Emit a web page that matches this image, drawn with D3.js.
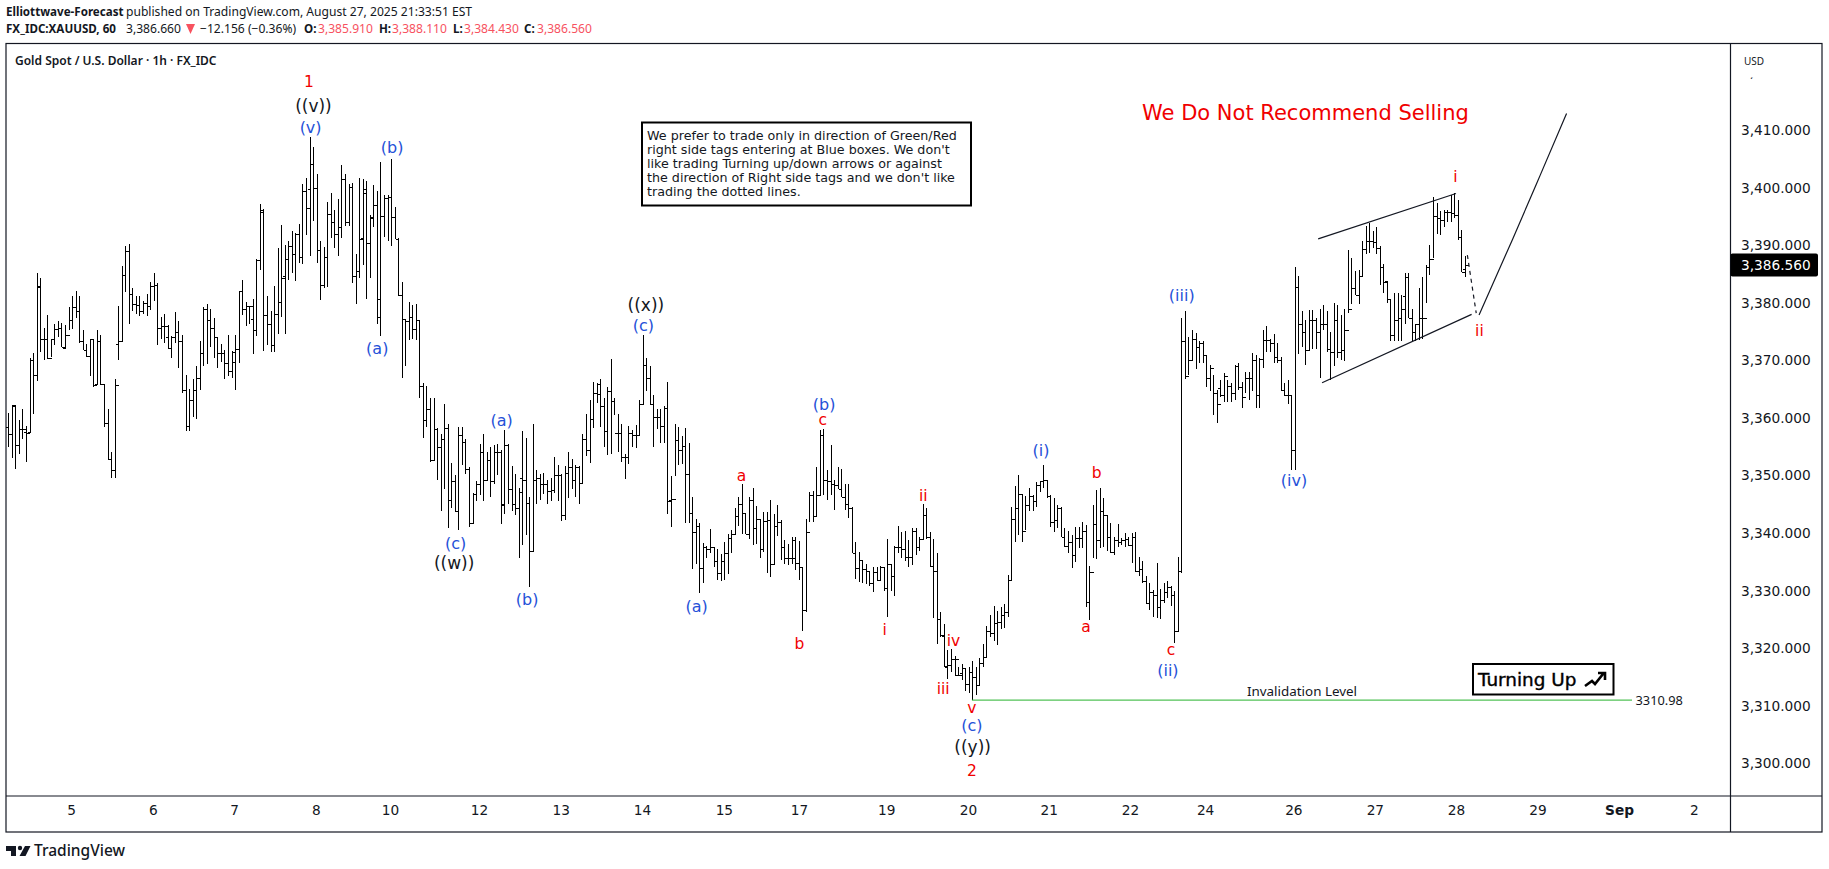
<!DOCTYPE html>
<html>
<head>
<meta charset="utf-8">
<title>XAUUSD 1h</title>
<script src="https://cdn.jsdelivr.net/npm/d3@7"></script>
<style>
    html, body { margin: 0; padding: 0; background: #fff; }
    svg { display: block; font-family: "Noto Sans", sans-serif; }
    .axis path, .axis line { display: none; }
    .axis text { font-family: "DejaVu Sans", sans-serif; font-size: 13.7px; fill: #131722; }
    .wave { font-family: "DejaVu Sans", sans-serif; text-anchor: middle; dominant-baseline: central; }
</style>
</head>
<body>
<script>
const highs = [
3360.8,3362.2,3362.2,3359.6,3361.5,3358.6,3370.4,3371.3,3385.1,3384.3,
3375.7,3377.8,3373.8,3376.4,3376.9,3376.5,3376.1,3379.2,3381.1,3382.1,
3381.1,3375.3,3372.8,3373.8,3373.8,3375.3,3374.4,3365.9,3361.6,3354.1,
3366.7,3379.4,3386.4,3389.9,3390.2,3382.5,3381.1,3381.2,3380.4,3381.5,
3383.6,3385.1,3383.4,3377.5,3378.1,3376.1,3374.2,3378.4,3376.8,3374.4,
3367.5,3365.1,3366.8,3369,3373.4,3379.2,3379.8,3379,3377.3,3374.1,
3372.8,3371.8,3374.4,3371.6,3374.4,3382.1,3384,3380.2,3379.4,3380.7,
3387.6,3397.2,3396.3,3381.1,3378.5,3383,3389.5,3393.6,3390.1,3390.8,
3392.4,3392.1,3393.7,3400.7,3401.7,3408.8,3407.1,3402.4,3390.8,3389.7,
3397.5,3399.1,3396.2,3398,3404,3402.4,3400.7,3400.9,3388.4,3401.7,
3401.5,3401.1,3395.3,3400.5,3399.4,3404.4,3398.8,3398.8,3405,3396.6,
3391.2,3383.6,3377.2,3380.1,3379.7,3379.8,3377,3366,3365.5,3363.4,
3363.5,3358.2,3357.2,3362.5,3359,3352.1,3350.1,3358.5,3358.4,3356.4,
3351.5,3346.9,3349.1,3355.4,3357.2,3354.1,3355,3355.3,3355.4,3354.4,
3357.9,3355.4,3351.6,3350.2,3347.9,3357.8,3356.6,3346.3,3358.9,3350.9,
3350.2,3350.5,3349.2,3349.6,3353.2,3351.8,3350.3,3351.6,3354,3352.8,
3351.8,3351.7,3357.2,3360.6,3363.1,3366.3,3366,3366.7,3363.4,3365.4,
3370.3,3363.4,3360.6,3359,3353.8,3358.6,3357.9,3358.7,3363.2,3374.4,
3370.5,3369,3364,3361.5,3361.6,3362,3366.3,3350,3358.9,3358.5,
3356.9,3358.2,3355.7,3346.2,3342.5,3341.7,3338.2,3337.7,3340.7,3337.5,
3337.3,3336.3,3338.5,3339.9,3340.5,3344.4,3346.3,3348.5,3343.4,3346.2,
3347.9,3344.7,3342.4,3343.7,3343.7,3345.7,3343.3,3344.9,3342.3,3338.8,
3338.1,3339.3,3339.3,3338.6,3334.1,3342.4,3347.2,3347.3,3351.5,3357.9,
3358,3351,3355.3,3349.2,3351.5,3351.2,3348.5,3348.5,3344.5,3338.5,
3336.7,3335.4,3334.6,3333.4,3334.1,3334.1,3334.3,3334.1,3338.9,3334.7,
3337.7,3341.2,3340.2,3340.3,3338.8,3340.8,3340.8,3339.4,3345,3344.4,
3340.2,3339,3336.6,3326.3,3324.2,3319.7,3319.8,3318.7,3316.8,3317.3,
3316.5,3316.8,3317.7,3316.8,3318.3,3320.8,3323.8,3325.8,3327.4,3326.4,
3327.1,3327.7,3332.8,3344.5,3348.2,3350.1,3346.6,3346.5,3347.8,3346.6,
3348.8,3349.1,3351.9,3349.2,3346.6,3346.1,3344.9,3344.6,3340.8,3340.3,
3339.7,3341.1,3341.1,3342,3341.4,3334.2,3344.9,3347.4,3347.8,3346.1,
3343.1,3341.7,3339.4,3341.6,3339.1,3340,3339.3,3340,3340.1,3335.9,
3335.2,3332.5,3331.3,3330.1,3334.8,3330.3,3331.3,3331.6,3330.8,3329.9,
3335.9,3377.3,3378.5,3374.1,3375.3,3374.7,3373.3,3373.3,3370.8,3369.2,
3367.5,3364.9,3366.6,3367.8,3366.6,3366,3369.2,3369.5,3366.3,3368,
3368,3371.2,3370.9,3370.4,3375.3,3376,3373.8,3374.6,3373,3370.6,
3366,3366.6,3364,3386.3,3384.7,3378.6,3377,3378.8,3378.8,3377.3,
3378.9,3379.6,3378.5,3375,3379.9,3379.6,3377.9,3379,3389.2,3387.7,
3385.6,3385.7,3390.8,3393.4,3393.9,3392.4,3393.1,3389.8,3386.8,
3383.8,3380.6,3381.7,3381.7,3381.4,3385.1,3385.1,3378.9,3376.4,3382.5,
3384.5,3386.6,3390,3398.4,3397.3,3396,3396.1,3396.2,3398.8,3399,
3397.9,3392.7,3388.11];

const lows = [
3355,3353.1,3351.2,3353.7,3356.4,3352.4,3357.4,3360.6,3366.5,3371.5,
3370,3370.2,3370.6,3372.7,3374.1,3372.4,3372.1,3375.3,3375.4,3377.4,
3373,3371.8,3370.6,3367.3,3365.3,3365.7,3365.7,3358.5,3352.7,3349.5,
3349.5,3370,3373.3,3381.8,3376.3,3378.5,3378.1,3377.7,3378.1,3377.7,
3378.7,3380.4,3372.7,3373.8,3373,3372,3370.4,3373,3368.6,3364.4,
3357.8,3357.8,3360.2,3359.9,3364.9,3369.1,3369.4,3372.4,3370.4,3368.6,
3369.8,3366.7,3367.2,3367,3364.8,3369.6,3377.8,3376,3376.3,3371.1,
3374.3,3385.7,3371.7,3372.7,3371.4,3371.4,3374.5,3377.6,3374.5,3383.9,
3385.2,3383.8,3387,3386.8,3391.8,3388.1,3394.3,3387,3380.5,3382.6,
3382.8,3391.2,3389.6,3388.2,3391.2,3393.3,3393.3,3383.4,3379.8,3384.3,
3386.6,3380.7,3384.3,3393.2,3376.4,3374.2,3391.5,3390.7,3389.8,3391.1,
3381.2,3366.9,3369.1,3373.6,3373.7,3373.6,3363.4,3356.5,3358.4,3352.4,
3352.5,3349.2,3343.9,3347.6,3340.9,3344.4,3343.7,3340.5,3351.8,3350.2,
3341,3341.5,3345.6,3346.6,3345.6,3349.3,3346.3,3348.6,3350.1,3341.5,
3343.3,3345.1,3343.9,3343.1,3335.7,3337.9,3339.6,3330.7,3336.7,3345,
3345.7,3346.8,3345,3345.6,3347,3345.6,3342.1,3342.2,3346.1,3347.7,
3346.2,3345.1,3348.7,3353.4,3352.2,3358.2,3362.6,3358.4,3355,3353.5,
3353.8,3360.5,3354,3352.4,3349.4,3352,3354.9,3354.7,3357.1,3362.3,
3364.7,3362.3,3355,3358,3355.6,3355.7,3343.3,3341.1,3350,3351.8,
3352,3341.7,3341.7,3333.7,3334.7,3329.5,3331.4,3335.6,3336.6,3334.1,
3331.9,3331.7,3331.9,3332.9,3336.6,3339.6,3341.2,3339.9,3339.8,3339,
3337.9,3338.1,3335.7,3336.7,3333.1,3332.4,3334.4,3339.5,3335.3,3334.6,
3334.4,3334.7,3333.5,3331.8,3323,3326.3,3342,3342,3342.8,3346.4,
3346.6,3345.7,3346.6,3344,3347.7,3346.2,3344,3342.6,3336.5,3332.1,
3331.5,3331.4,3331.2,3330.8,3329.8,3331.7,3331.8,3330,3325.4,3330,
3329.1,3336.6,3335.6,3335.2,3334.1,3334.4,3336.2,3336.8,3338.9,3339,
3334.1,3325.3,3320.7,3322,3316.8,3314.6,3315.8,3315.2,3315.2,3314.4,
3312.5,3312.2,3311,3311.9,3313.6,3316.8,3318.3,3321.9,3321.2,3320.6,
3323.3,3323.5,3325.4,3331.6,3338.5,3339.7,3338.5,3340.6,3343.8,3343.8,
3344.6,3347.1,3347.8,3346.1,3341,3340.1,3340.9,3339.3,3337.6,3336.6,
3333.9,3335,3337.4,3337.4,3327.2,3324.9,3335.6,3335.5,3337.4,3337.6,
3336.8,3336.5,3336.2,3337.6,3338,3337.6,3337.8,3334.8,3333.3,3332.5,
3331.4,3327.7,3326.6,3325.4,3325.2,3325,3327.8,3328.7,3327.4,3320.9,
3322.9,3333,3366.8,3367.5,3370.1,3368.5,3369.5,3369.5,3365.4,3364.6,
3360.5,3359.2,3363.6,3362.8,3362.7,3362.7,3363.1,3364.9,3361.7,3364.3,
3363.1,3364.7,3361.7,3361.7,3368.6,3371.5,3371.4,3369.5,3369.5,3364.6,
3363.8,3362.5,3351,3351,3371.1,3372.4,3369.2,3371.8,3371.9,3371.9,
3366.9,3375.3,3371.5,3366.6,3369,3370.4,3370,3369.9,3378.3,3379.8,
3381.4,3379.8,3384.7,3388.5,3388.6,3389.5,3388.5,3383.1,3381.7,
3380,3373.4,3373.4,3373.4,3373.4,3376.4,3377.3,3373.4,3373.4,3373.5,
3373.8,3379.9,3384.8,3387.7,3392,3391.8,3393.2,3394.1,3394.1,3394.7,
3391,3385.3,3384.43];

const closes = [
3357.2,3362.2,3355.3,3358,3358,3357.3,3370,3367.5,3383,3373.7,
3373.8,3370.5,3373.8,3375.4,3375.7,3372.4,3374.4,3377,3379.2,3378.6,
3373.3,3371.8,3370.8,3373.8,3365.7,3373.4,3365.9,3359.2,3352.8,3351,
3365.7,3373.4,3384.8,3389,3381.6,3379.8,3379.6,3378.6,3380,3379.4,
3382.9,3383.1,3375.7,3376,3376,3372.1,3374,3374.9,3373.3,3364.8,
3358.6,3363.2,3364.9,3367,3371.2,3379,3377,3375.7,3374,3371.2,
3371.2,3369.5,3368.1,3371.5,3371.9,3382,3379,3379.4,3379.4,3375.2,
3387.4,3396.1,3377.9,3376.3,3372.7,3378,3380.2,3384.3,3387.6,3389.8,
3388.5,3392,3387.9,3399.4,3396.4,3404.2,3400,3389.1,3383.1,3387.9,
3395.4,3394,3392,3393.2,3401.5,3394,3400.2,3384.6,3385.5,3391.1,
3399.8,3390.4,3394.9,3397,3380.6,3395,3398.2,3398.3,3394.9,3391.1,
3381.4,3377.2,3376.9,3377.6,3375.4,3377,3365.5,3359.7,3361.5,3352.7,
3358,3354.9,3356.4,3358.2,3345.8,3349,3343.8,3357,3355.8,3351.2,
3341.8,3346.8,3348.6,3354.1,3349.3,3352.7,3349.1,3354,3354,3344.9,
3355.3,3347.6,3345.1,3344.3,3347.1,3349.3,3345.3,3336.9,3349.3,3349.5,
3348.6,3348.6,3347.3,3347.4,3350.1,3350.1,3343.1,3350.5,3351.4,3349.2,
3351.5,3348.7,3356.4,3354.4,3359.9,3364.4,3364.2,3362,3357.8,3364.6,
3362.9,3357.3,3357.4,3353.3,3353.3,3357.4,3357,3357.1,3362.4,3369.2,
3367,3362.4,3360.1,3360.1,3358.6,3361.8,3345.6,3345.9,3356.1,3354.5,
3355.1,3350.2,3343.5,3340.2,3341.3,3334,3337.5,3337.3,3337.6,3335.2,
3333,3335.1,3336.6,3339.2,3339.9,3342.9,3345,3343.4,3339.9,3345.7,
3340.8,3342.4,3337.3,3342.1,3342.2,3334.6,3341.3,3342,3337.6,3335.7,
3335.7,3338.8,3334.8,3334.1,3326.7,3340.2,3346.6,3342.9,3346.6,3357,
3349.3,3349.1,3348.6,3348.3,3347.7,3346.2,3345,3344.4,3336.6,3334,
3335.3,3333.8,3333.4,3331.4,3333.3,3331.8,3334.1,3330.5,3334.7,3332.5,
3337.5,3337.6,3337.3,3335.8,3335.8,3340.4,3337.6,3338.9,3343.1,3339.4,
3334.3,3333.4,3325,3322.3,3316.8,3317.1,3318.2,3318.2,3315.4,3316.5,
3313.8,3315.8,3315,3313.6,3317.4,3318.4,3322.9,3322.7,3324.4,3324.6,
3325.8,3326.3,3331.9,3342.4,3344.3,3346.8,3340.4,3344.9,3346.5,3345.5,
3348.4,3349,3349.2,3346.5,3342,3342.3,3344.3,3339.4,3337.8,3338.4,
3336.2,3339.2,3339.2,3340.4,3328,3333.2,3341.6,3338.8,3343.9,3343.1,
3339.4,3336.7,3338.8,3338.4,3338.8,3338.9,3337.9,3339.4,3333.4,3333.7,
3331.6,3327.9,3329.7,3329.2,3327.2,3328.3,3329.7,3330.7,3329.3,3323,
3333.4,3373.4,3367.3,3370,3373.8,3372.4,3373.1,3370.9,3366.9,3368.6,
3364.4,3362.4,3364,3367.2,3365.6,3364.3,3369,3365.4,3363.6,3367,
3367,3370,3364,3370.2,3373.6,3373.5,3373.1,3370.6,3370,3364.9,
3364,3364,3354.4,3382.8,3376.4,3375,3371.8,3377,3377,3375,
3376.3,3376.3,3371.9,3371.5,3377.1,3371.5,3371.8,3375.3,3379,3382.5,
3381.4,3384.7,3389.3,3390.8,3390.8,3390.6,3389.5,3386.2,3383.7,
3380.6,3374.4,3377,3377.3,3379,3384.5,3377.3,3375,3376.4,3377.3,
3377.3,3386.3,3387.6,3395.1,3394.7,3394.4,3395.8,3395.8,3395.6,3395.3,
3391.5,3385.4,3386.56];

const opens = [
3358.5,3357.2,3362.1,3355.3,3358,3357.6,3357.6,3370,3367.5,3382.8,
3373.7,3373.8,3370.5,3373.8,3375.4,3375.7,3372.1,3374.4,3377,3379.2,
3378.6,3373.3,3371.8,3370.8,3373.8,3365.9,3373.4,3365.9,3359.2,3352.8,
3351,3372.8,3373.3,3384.8,3389,3381.6,3379.8,3379.6,3378.6,3380,
3379.4,3382.9,3383.1,3375.7,3376,3374.1,3372.1,3374,3374.9,3373.3,
3364.8,3358.6,3363.2,3364.9,3367,3371.2,3379,3377,3375.7,3374,
3371.2,3371.2,3369.5,3368.1,3369.8,3371.9,3382,3379,3379.4,3377.2,
3375.3,3387.4,3395.8,3377.9,3376.3,3372.7,3378,3380.2,3384.6,3387.6,
3389.8,3388.5,3392,3387.9,3399.4,3399.7,3404.2,3400,3389.1,3383.1,
3387.9,3395.4,3394,3392,3393.2,3401.5,3394,3400.2,3384.6,3385.5,
3391.2,3399.1,3390.4,3394.7,3397,3377.5,3395,3398.2,3398.3,3394.9,
3391.1,3381.4,3377.2,3376.9,3377.6,3375.4,3377,3365.5,3359.7,3361.5,
3352.7,3358,3354.9,3356.4,3358.2,3345.8,3349,3343.8,3357,3355.8,
3351.2,3341.8,3346.8,3348.6,3354.1,3349.3,3352.7,3349.1,3354,3354,
3345,3355.3,3347.6,3345.1,3344.3,3349.5,3349.3,3345.3,3336.9,3349.3,
3349.5,3348.6,3348.6,3347.3,3347.4,3350.1,3350.1,3343.1,3350.5,3351.4,
3349.2,3351.5,3348.7,3356.4,3354.4,3359.9,3364.4,3365.9,3362,3357.8,
3364.6,3362.9,3357.3,3357.4,3353.3,3353.3,3357.4,3357,3357.1,3362.4,
3369.2,3367,3362.4,3360.1,3360.1,3358.6,3361.8,3345.7,3345.9,3356.1,
3354.5,3355.1,3350.2,3343.5,3340.2,3341.3,3334,3337.5,3337.3,3337.6,
3335.2,3333,3335.1,3336.6,3339.2,3339.9,3342.9,3345,3343.4,3339.9,
3345.7,3340.8,3342.4,3337.3,3342.1,3342.2,3334.6,3341.3,3342,3337.6,
3335.7,3335.7,3335.7,3334.8,3334.1,3326.7,3340.2,3346.6,3342.9,3346.6,
3357,3349.3,3349.1,3348.6,3348.3,3347.7,3346.2,3345,3344.4,3336.6,
3334,3335.3,3333.8,3333.4,3331.4,3333.3,3331.8,3334.1,3330.5,3334.7,
3332.5,3337.5,3337.6,3337.3,3335.8,3335.8,3340.4,3337.6,3338.9,3343.1,
3339.4,3334.3,3333.4,3325,3322.2,3316.9,3317.1,3318.2,3315.4,3315.7,
3316.5,3313.8,3315.8,3315,3313.6,3317.4,3318.4,3322.9,3322.7,3324.4,
3324.6,3325.8,3326.3,3331.9,3342.4,3344.3,3346.8,3340.4,3344.9,3346.5,
3345.5,3348.4,3349,3349.2,3346.5,3342,3342.3,3344.3,3339.4,3337.8,
3338.4,3336.2,3339.2,3339.2,3340.4,3328,3333.2,3341.6,3338.8,3343.9,
3343.1,3339.4,3336.7,3338.8,3338.4,3338.8,3338.9,3337.9,3339.4,3333.4,
3333.7,3331.6,3327.9,3329.7,3329.2,3327.2,3328.3,3329.7,3330.7,3329.3,
3323,3333.4,3373.4,3367.3,3370,3373.8,3372.4,3373.1,3370.9,3366.9,
3368.6,3364.4,3365.2,3364,3367.2,3365.6,3364.3,3369,3365.4,3363.6,
3367,3367,3370,3364,3370.2,3373.6,3373.5,3373.1,3370.6,3370,
3364.9,3364,3364,3354.4,3382.8,3376.4,3375,3371.8,3377,3377,
3375,3376.3,3376.3,3371.9,3371.5,3377.1,3371.5,3371.8,3375.3,3379,
3382.5,3381.4,3384.7,3389.3,3390.8,3390.8,3390.6,3389.5,3386.2,
3383.8,3380.6,3374.4,3377,3377.3,3381.2,3384.5,3377.3,3375,3376.4,
3377.3,3377.3,3386.3,3387.6,3395.1,3394.7,3394.4,3395.8,3395.8,3395.6,
3395.3,3391.5,3385.91];

const priceTicks = [3300, 3310, 3320, 3330, 3340, 3350, 3360, 3370, 3380, 3390, 3400, 3410];
const dateLabels = ["5","6","7","8","10","12","13","14","15","17","19","20","21","22","24","26","27","28","29","Sep","2"];
const dateBars = [17.7,40.8,63.7,86.8,107.7,132.8,155.9,178.8,201.9,223.1,247.7,270.8,293.6,316.5,337.7,362.6,385.6,408.5,431.5,454.5,475.6];

// wave counts: text, bar, price
const redLabels = [["1",84.8,3418.4],["a",206.9,3350],["c",229.8,3359.6],["b",223.2,3320.7],["i",247.3,3323.2],["ii",258.2,3346.4],
    ["iv",266.7,3321.2],["iii",263.8,3312.9],["v",271.9,3309.6],["2",271.9,3298.7],["b",307.1,3350.4],["a",304.1,3323.7],["c",328.1,3319.6],
    ["i",408.3,3401.9],["ii",415.1,3375.1]];
const blueLabels = [["(v)",85.3,3410.5],["(b)",108.3,3406.9],["(a)",104.1,3372],["(a)",139.2,3359.5],["(c)",126.2,3338.1],["(b)",146.4,3328.4],
    ["(c)",179.2,3376.1],["(a)",194.2,3327.3],["(b)",230.2,3362.3],["(c)",271.9,3306.5],["(i)",291.4,3354.3],["(ii)",327.2,3316.2],
    ["(iii)",331.1,3381.2],["(iv)",362.8,3349.2]];
const blackLabels = [["((v))",86.1,3414.2],["((w))",125.8,3334.8],["((x))",179.9,3379.6],["((y))",272.1,3302.9]];

const upperChannel = [[369.6,3391.1],[408.5,3399]];
const lowerChannel = [[370.7,3366.1],[412.9,3378]];
const dottedPath = [[411.7,3388.3],[414.2,3378.2]];
const projection = [[415,3377.9],[424.5,3391.1],[432.2,3402.1],[439.7,3412.9]];
const invalidation = 3310.98;
const lastClose = 3386.56;

const noteLines = ["We prefer to trade only in direction of Green/Red",
    "right side tags entering at Blue boxes. We don't",
    "like trading Turning up/down arrows or against",
    "the direction of Right side tags and we don't like",
    "trading the dotted lines."];

const width = 1829, height = 869;
const plot = {left: 6, top: 43.5, right: 1730.5, bottom: 796, outerRight: 1822, outerBottom: 832};
const ink = "#131722";

const x = d3.scaleLinear().domain([0, 412]).range([8.3, 8.3 + 3.544 * 412]);
const y = d3.scaleLinear().domain([3300, 3400]).range([763.3, 187.7]);
const bars = highs.map((h, i) => ({i: i, high: h, low: lows[i], open: opens[i], close: closes[i]}));

const svg = d3.select("body").append("svg")
    .attr("width", width)
    .attr("height", height);

// header
function headerText(py, parts) {
    const t = svg.append("text").attr("y", py).attr("font-size", 12.1).attr("fill", ink);
    parts.forEach(p => t.append("tspan").attr("x", p.x)
        .attr("font-weight", p.bold ? 700 : 400)
        .attr("font-size", p.bold ? 11.6 : null)
        .attr("fill", p.color || ink).text(p.text));
}
headerText(16, [{x: 6, text: "Elliottwave-Forecast", bold: true}, {x: 126, text: "published on TradingView.com, August 27, 2025 21:33:51 EST"}]);
const down = "#f7525f";
headerText(33, [
    {x: 6, text: "FX_IDC:XAUUSD, 60", bold: true}, {x: 126, text: "3,386.660"},
    {x: 200, text: "\u221212.156 (\u22120.36%)"},
    {x: 304, text: "O:", bold: true}, {x: 318, text: "3,385.910", color: down},
    {x: 379, text: "H:", bold: true}, {x: 392, text: "3,388.110", color: down},
    {x: 453, text: "L:", bold: true}, {x: 464, text: "3,384.430", color: down},
    {x: 524, text: "C:", bold: true}, {x: 537, text: "3,386.560", color: down}]);
svg.append("path").attr("d", "M186,24 h9 l-4.5,10 z").attr("fill", down);

// frame
const frame = svg.append("g").attr("fill", "none").attr("stroke", ink).attr("stroke-width", 1.2);
frame.append("rect").attr("x", plot.left).attr("y", plot.top)
    .attr("width", plot.outerRight - plot.left).attr("height", plot.outerBottom - plot.top);
frame.append("line").attr("x1", plot.right).attr("x2", plot.right).attr("y1", plot.top).attr("y2", plot.outerBottom);
frame.append("line").attr("x1", plot.left).attr("x2", plot.outerRight).attr("y1", plot.bottom).attr("y2", plot.bottom);

svg.append("text").attr("x", 15).attr("y", 64.5).attr("font-size", 12).attr("font-weight", 600).attr("fill", ink)
    .text("Gold Spot / U.S. Dollar \u00b7 1h \u00b7 FX_IDC");

// price axis
svg.append("g").attr("class", "axis")
    .attr("transform", "translate(1741,0)")
    .call(d3.axisRight(y).tickValues(priceTicks).tickSize(0).tickPadding(0).tickFormat(d3.format(",.3f")));
svg.append("text").attr("x", 1744).attr("y", 65).attr("font-size", 10).attr("fill", ink).text("USD");

// 3,420 label is cut off under the currency box, only its comma shows
svg.append("clipPath").attr("id", "topTick").append("rect")
    .attr("x", 1735).attr("y", 77.5).attr("width", 80).attr("height", 10);
svg.append("text").attr("x", 1741).attr("y", y(3420)).attr("dy", "0.35em")
    .attr("clip-path", "url(#topTick)")
    .attr("font-family", "DejaVu Sans").attr("font-size", 13.7).attr("fill", ink)
    .text(d3.format(",.3f")(3420));

// time axis
svg.append("g").attr("class", "axis")
    .attr("transform", "translate(0,805)")
    .call(d3.axisBottom(x).tickValues(dateBars).tickSize(0).tickPadding(0).tickFormat((d, i) => dateLabels[i]))
    .selectAll("text")
        .attr("font-size", 13)
        .attr("font-weight", (d, i) => dateLabels[i] === "Sep" ? 700 : 400);

// ohlc bars
const crisp = v => Math.round(v) + 0.5;
svg.append("g").attr("fill", "none").attr("stroke", "#000").attr("shape-rendering", "crispEdges")
    .selectAll("path").data(bars).enter().append("path")
        .attr("d", d => {
            const cx = crisp(x(d.i));
            return `M${cx},${y(d.high)}V${y(d.low)}M${cx - 3},${crisp(y(d.open))}H${cx}M${cx},${crisp(y(d.close))}H${cx + 3}`;
        });

// invalidation level
svg.append("line").attr("x1", x(271.9)).attr("x2", 1632).attr("y1", y(invalidation)).attr("y2", y(invalidation))
    .attr("stroke", "#26b32d").attr("stroke-width", 1);
svg.append("text").attr("x", 1635.5).attr("y", y(invalidation)).attr("dy", "0.35em").attr("font-size", 12.8).attr("fill", ink).text("3310.98");
svg.append("text").attr("x", 1302).attr("y", 691).attr("dy", "0.35em").attr("text-anchor", "middle").attr("font-size", 13.4).attr("fill", ink).text("Invalidation Level");

// channel and projection
const line = d3.line().x(d => x(d[0])).y(d => y(d[1]));
const drawing = svg.append("g").attr("fill", "none").attr("stroke", ink).attr("stroke-width", 1.2);
drawing.append("path").attr("d", line(upperChannel));
drawing.append("path").attr("d", line(lowerChannel));
drawing.append("path").attr("d", line(dottedPath)).attr("stroke-dasharray", "4 4");
drawing.append("path").attr("d", line.curve(d3.curveNatural)(projection));

// wave labels
function waveLabels(rows, color, size) {
    svg.append("g").selectAll("text").data(rows).enter().append("text")
        .attr("class", "wave")
        .attr("x", d => x(d[1]))
        .attr("y", d => y(d[2]))
        .attr("fill", color)
        .attr("font-size", size)
        .text(d => d[0]);
}
waveLabels(redLabels, "#f00000", 15.5);
waveLabels(blueLabels, "#2551d8", 16);
waveLabels(blackLabels, ink, 17);

// note box
svg.append("rect").attr("x", 642).attr("y", 122.5).attr("width", 329).attr("height", 83)
    .attr("fill", "#fff").attr("stroke", "#000").attr("stroke-width", 2);
svg.append("g").selectAll("text").data(noteLines).enter().append("text")
    .attr("x", 647).attr("y", (d, i) => 136 + i * 14).attr("dy", "0.35em")
    .attr("font-family", "DejaVu Sans").attr("font-size", 12.7).attr("fill", ink).text(d => d);

svg.append("text").attr("x", 1142).attr("y", 113).attr("dy", "0.35em")
    .attr("font-family", "DejaVu Sans").attr("font-size", 21).attr("fill", "#f00000").text("We Do Not Recommend Selling");

// turning up tag
svg.append("rect").attr("x", 1473).attr("y", 664).attr("width", 140.5).attr("height", 30.5)
    .attr("fill", "#fff").attr("stroke", "#000").attr("stroke-width", 2);
svg.append("text").attr("x", 1478).attr("y", 680).attr("dy", "0.35em")
    .attr("font-family", "DejaVu Sans").attr("font-size", 18.4).attr("fill", "#000")
    .attr("stroke", "#000").attr("stroke-width", 0.4).text("Turning Up");
svg.append("path").attr("d", "M1585,686 L1592,681 L1595,684 L1603,674 M1598,673 H1605 V680")
    .attr("fill", "none").attr("stroke", "#000").attr("stroke-width", 2.6);

// price tag
svg.append("rect").attr("x", 1730.5).attr("y", y(lastClose) - 11.5).attr("width", 87.5).attr("height", 23).attr("rx", 2).attr("fill", "#000");
svg.append("text").attr("x", 1741).attr("y", y(lastClose)).attr("dy", "0.35em")
    .attr("font-family", "DejaVu Sans").attr("font-size", 13.7).attr("fill", "#fff").text(d3.format(",.3f")(lastClose));

// logo
svg.append("path").attr("d", "M6,846 H16 V856 H11 V851 H6 Z M25,846 H30.5 L25.5,856 H19.5 Z").attr("fill", ink);
svg.append("circle").attr("cx", 20).attr("cy", 848).attr("r", 2.2).attr("fill", ink);
svg.append("text").attr("x", 34).attr("y", 851).attr("dy", "0.35em").attr("font-size", 15.5).attr("font-weight", 500).attr("fill", ink).text("TradingView");
</script>
</body>
</html>
